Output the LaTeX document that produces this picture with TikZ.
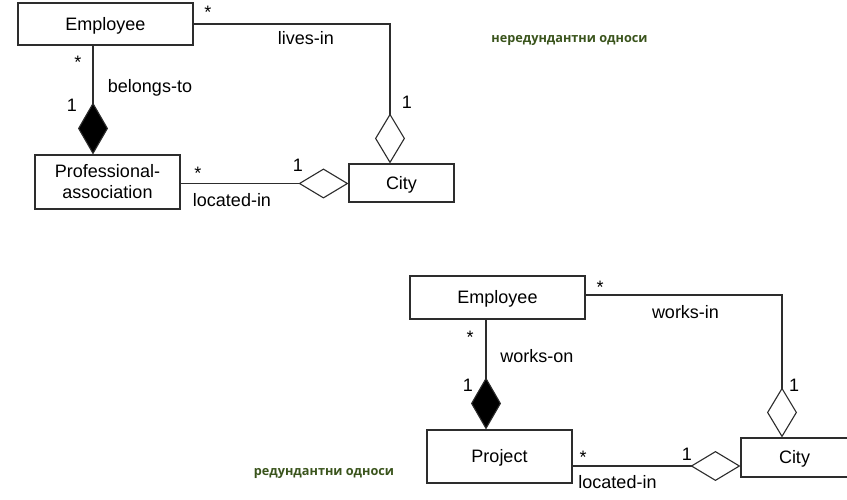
\documentclass[tikz,border=0pt]{standalone}
\usepackage{fontspec}
\setmainfont{Liberation Sans}
\newfontfamily\notefont{Open Sans}
\usetikzlibrary{arrows.meta}
\definecolor{linegray}{RGB}{45,45,45}
\definecolor{noteolive}{RGB}{58,84,28}
\tikzset{
  cls/.style={draw=linegray, line width=1.1pt, inner sep=0pt, align=center,
    text height=12.8pt, text depth=0pt,
    font=\fontsize{18}{21}\selectfont},
  lab/.style={inner sep=0pt, anchor=base, font=\fontsize{18}{21}\selectfont},
  note/.style={inner sep=0pt, anchor=base, text=noteolive,
    font=\notefont\bfseries\fontsize{12.7}{15}\selectfont},
  assoc/.style={draw=linegray, line width=1.1pt},
  aggr/.style={assoc, -{Diamond[open, length=50pt, width=30pt, fill=white]}},
  compo/.style={assoc, -{Diamond[length=52pt, width=30pt, fill=black]}},
}
\begin{document}
\begin{tikzpicture}[x=1pt, y=-1pt]
\useasboundingbox (0,0) rectangle (847,500);

% ---- upper model: non-redundant relations ----
\node[cls, minimum width=175pt, minimum height=42pt] (emp)  at (105.5,24)  {Employee};
\node[cls, minimum width=145pt, minimum height=54pt, text height=33.8pt] (pa) at (107.5,182) {Professional-\\association};
\node[cls, minimum width=105pt, minimum height=38pt] (city) at (401.5,183) {City};

\draw[aggr] (emp.east) -| ([xshift=-11.5pt]city.north);
\draw[compo] ([xshift=-12.5pt]emp.south) -- ([xshift=-12.5pt]emp.south |- pa.north);
\draw[aggr] ([yshift=-1.5pt]pa.east) -- ([yshift=-1.5pt]pa.east -| city.west);

\node[lab] (m1) at (208,19)  {*};
\node[lab] (r1) at (306,45)  {lives-in};
\node[lab] (m2) at (407,109) {1};
\node[lab] (m3) at (78,69)   {*};
\node[lab] (r2) at (150,93)  {belongs-to};
\node[lab] (m4) at (72,112)  {1};
\node[lab] (m5) at (198,180) {*};
\node[lab] (m6) at (298,172) {1};
\node[lab] (r3) at (232,207) {located-in};

\node[note] (n1) at (569.5,42.7) {нередундантни односи};

% ---- lower model: redundant relations ----
\node[cls, minimum width=175pt, minimum height=43pt] (emp2)  at (497.5,297.5) {Employee};
\node[cls, minimum width=145pt, minimum height=53pt] (proj)  at (499.5,456.5) {Project};
\node[cls, minimum width=107pt, minimum height=39pt] (city2) at (794.5,457.5) {City};

\draw[aggr] ([yshift=2.5pt]emp2.east) -| ([xshift=-12.5pt]city2.north);
\draw[compo] ([xshift=-11.5pt]emp2.south) -- ([xshift=-11.5pt]emp2.south |- proj.north);
\draw[aggr] ([yshift=-9.5pt]proj.east) -- ([yshift=-9.5pt]proj.east -| city2.west);

\node[lab] (k1) at (600,293.5) {*};
\node[lab] (s1) at (685.5,318) {works-in};
\node[lab] (k2) at (794,391)   {1};
\node[lab] (k3) at (470,343)   {*};
\node[lab] (s2) at (537,362)   {works-on};
\node[lab] (k4) at (468,391)   {1};
\node[lab] (k5) at (583,463.5) {*};
\node[lab] (k6) at (687,460)   {1};
\node[lab] (s3) at (617.5,488) {located-in};

\node[note] (n2) at (324,475) {редундантни односи};
\end{tikzpicture}
\end{document}
